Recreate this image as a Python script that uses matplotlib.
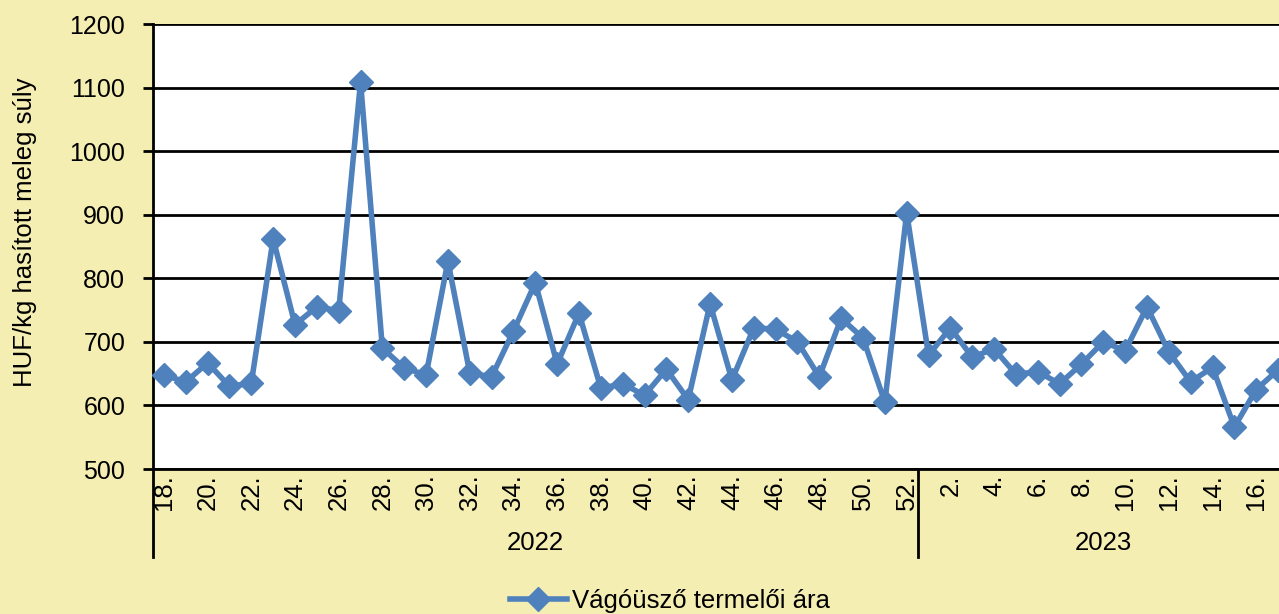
import matplotlib
matplotlib.use("Agg")
import matplotlib.pyplot as plt
import matplotlib.transforms as mtransforms

weeks_2022 = list(range(18, 53))
weeks_2023 = list(range(1, 18))
values_2022 = [648, 637, 667, 630, 635, 862, 727, 755, 749, 1109,
               690, 659, 648, 827, 651, 645, 717, 793, 665, 745,
               627, 634, 616, 657, 609, 760, 640, 722, 720, 700,
               645, 737, 706, 605, 903]
values_2023 = [679, 722, 676, 689, 649, 653, 634, 665, 700, 686,
               755, 684, 637, 660, 566, 625, 656]
years = ["2022", "2023"]
series_name = "Vágóüsző termelői ára"
y_label = "HUF/kg hasított meleg súly"
y_ticks = [500, 600, 700, 800, 900, 1000, 1100, 1200]

plt.rcParams['font.family'] = ['Liberation Sans', 'DejaVu Sans']
FS = 18.5
FS_Y = 18
BG = '#F5EEB3'
BLUE = '#4F81BD'

fig = plt.figure(figsize=(12.79, 6.14), dpi=100, facecolor=BG)
ax = fig.add_axes([153/1279, (614-469)/614, 1136/1279, 445/614])
ax.set_facecolor('white')

values = values_2022 + values_2023
labels = [f"{w}." for w in weeks_2022] + [f"{w}." for w in weeks_2023]
x = list(range(len(values)))

ax.plot(x, values, color=BLUE, lw=4, marker='D', ms=12, mew=1,
        mec=BLUE, mfc=BLUE, label=series_name, zorder=3, clip_on=False)

ax.set_xlim(-0.5, len(values) - 0.5)
ax.set_ylim(500, 1200)
ax.set_yticks(y_ticks)
ax.set_yticklabels([str(v) for v in y_ticks], fontsize=FS_Y)
ax.yaxis.grid(True, color='black', lw=2)
ax.set_axisbelow(True)
ax.tick_params(axis='y', direction='out', length=7, width=2, pad=13)

show_idx = [i for i, l in enumerate(labels) if int(l[:-1]) % 2 == 0]
ax.set_xticks(show_idx)
ax.set_xticklabels([labels[i] for i in show_idx], rotation=90, fontsize=FS)
ax.tick_params(axis='x', length=0, pad=4)

for s in ['top', 'right']:
    ax.spines[s].set_visible(False)
ax.spines['left'].set_linewidth(2)
ax.spines['bottom'].set_linewidth(2)

fig.text(25/1279, (614-232)/614, y_label, rotation=90, ha='center',
         va='center', fontsize=FS)

trans = mtransforms.blended_transform_factory(ax.transData, ax.transAxes)
n22 = len(values_2022)
sep_bottom = -(557-469)/445
for xs in [-0.5, n22 - 0.5]:
    ax.plot([xs, xs], [0, sep_bottom], color='black', lw=2,
            transform=trans, clip_on=False)
ycap = -(543-469)/445
ax.text((n22 - 1)/2, ycap, years[0], transform=trans, ha='center',
        va='center', fontsize=FS)
ax.text(n22 + (len(values_2023) - 1)/2, ycap, years[1], transform=trans,
        ha='center', va='center', fontsize=FS)

fig.legend(loc='center', bbox_to_anchor=(670/1279, (614-601)/614),
           frameon=False, fontsize=FS, handlelength=2.2, handletextpad=0.2,
           borderpad=0, borderaxespad=0)

fig.savefig('out.png', dpi=100, facecolor=BG)
